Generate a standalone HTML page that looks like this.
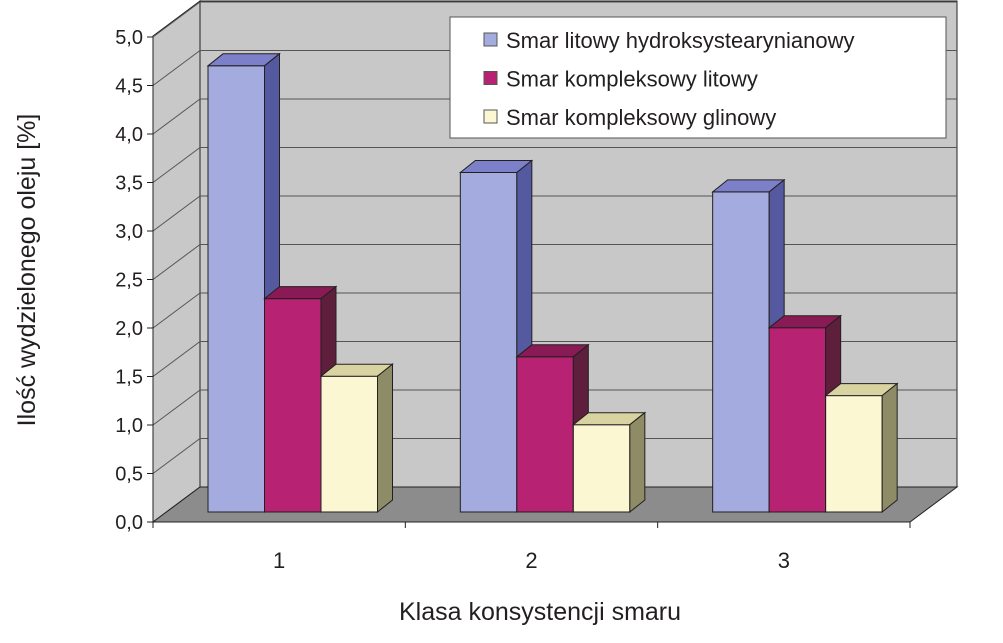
<!DOCTYPE html>
<html><head><meta charset="utf-8"><style>
body{margin:0;background:#fff;}
svg text{font-family:"Liberation Sans",sans-serif;fill:#231f20;}
</style></head><body>
<svg id="chart" width="1003" height="638" xmlns="http://www.w3.org/2000/svg"></svg>
<script>
const categories=["1","2","3"];
const seriesNames=["Smar litowy hydroksystearynianowy","Smar kompleksowy litowy","Smar kompleksowy glinowy"];
const s1=[4.6,3.5,3.3];
const s2=[2.2,1.6,1.9];
const s3=[1.4,0.9,1.2];
const yTicks=[0,0.5,1,1.5,2,2.5,3,3.5,4,4.5,5];
const yTickLabels=["0,0","0,5","1,0","1,5","2,0","2,5","3,0","3,5","4,0","4,5","5,0"];

const NS="http://www.w3.org/2000/svg";
const svg=document.getElementById('chart');
function mk(tag,attrs,parent){const e=document.createElementNS(NS,tag);for(const k in attrs)e.setAttribute(k,attrs[k]);(parent||svg).appendChild(e);return e;}
const X0=153,X1=910,Y0=522,DX=47,DY=35,PX=97;
const y=v=>Y0-v*PX;
const catW=(X1-X0)/categories.length;
// walls
let e;
e=mk('polygon',{points:`${X0},${y(5)-1} ${X0+DX},${y(5)-DY-1} ${X0+DX},${Y0-DY} ${X0},${Y0}`,fill:'#c8c8c8',stroke:'#231f20','stroke-width':1});

e=mk('rect',{x:X0+DX,y:1,width:X1-X0,height:Y0-DY-1,fill:'#c8c8c8',stroke:'#231f20','stroke-width':1});

e=mk('polygon',{points:`${X0},${Y0} ${X0+DX},${Y0-DY} ${X1+DX},${Y0-DY} ${X1},${Y0}`,fill:'#8c8c8c',stroke:'#231f20','stroke-width':1});

// grid + ticks
yTicks.forEach((v,i)=>{
  if(v>0){
    e=mk('line',{x1:X0+DX,y1:y(v)-DY,x2:X1+DX,y2:y(v)-DY,stroke:'#555','stroke-width':1});
    
    e=mk('line',{x1:X0,y1:y(v),x2:X0+DX,y2:y(v)-DY,stroke:'#555','stroke-width':1});
    
  }
  e=mk('line',{x1:X0-6,y1:y(v),x2:X0,y2:y(v),stroke:'#231f20','stroke-width':1});
  
  e=mk('text',{x:X0-10,y:y(v)+7,'text-anchor':'end','font-size':20});
  e.textContent=yTickLabels[i];
  
});
e=mk('line',{x1:X0,y1:y(5),x2:X0,y2:Y0,stroke:'#231f20','stroke-width':1});

e=mk('line',{x1:X0,y1:Y0,x2:X1,y2:Y0,stroke:'#231f20','stroke-width':1});

// bars
const series=[s1,s2,s3];
const cols=[["#a4acdf","#7b80c8","#5559a0"],["#b72273","#8a1a56","#5e1f3c"],["#fbf7d2","#d8d3a0","#8e8c66"]];
const bw=56.5,bdx=15,bdy=12,bBase=512,gOff=55;
categories.forEach((c,ci)=>{
  const gx=X0+ci*catW+gOff;
  series.forEach((s,si)=>{
    const x=gx+si*bw, top=bBase-s[ci]*PX;
    const g=mk('g',{});
    
    mk('rect',{x:x,y:top,width:bw,height:bBase-top,fill:cols[si][0],stroke:'#231f20','stroke-width':1},g);
    mk('polygon',{points:`${x},${top} ${x+bdx},${top-bdy} ${x+bw+bdx},${top-bdy} ${x+bw},${top}`,fill:cols[si][1],stroke:'#231f20','stroke-width':1},g);
    mk('polygon',{points:`${x+bw},${top} ${x+bw+bdx},${top-bdy} ${x+bw+bdx},${bBase-bdy} ${x+bw},${bBase}`,fill:cols[si][2],stroke:'#231f20','stroke-width':1},g);
  });
  e=mk('line',{x1:X0+(ci+1)*catW,y1:Y0,x2:X0+(ci+1)*catW,y2:Y0+6,stroke:'#231f20'});
  
  e=mk('text',{x:X0+(ci+0.5)*catW,y:568,'text-anchor':'middle','font-size':22});
  e.textContent=c;
  
});
e=mk('line',{x1:X0,y1:Y0,x2:X0,y2:Y0+6,stroke:'#231f20'});

// titles
e=mk('text',{x:540,y:620,'text-anchor':'middle','font-size':25});
e.textContent='Klasa konsystencji smaru';

e=mk('text',{x:0,y:0,'text-anchor':'middle','font-size':25,transform:'translate(35,270) rotate(-90)'});
e.textContent='Ilość wydzielonego oleju [%]';

// legend
const lg=mk('g',{});

mk('rect',{x:450,y:17,width:496,height:121,fill:'#fff',stroke:'#555','stroke-width':1},lg);
seriesNames.forEach((n,i)=>{
  const ry=40+i*38.5;
  const it=mk('g',{},lg);
  
  mk('rect',{x:484,y:ry-7,width:13,height:13,fill:cols[i][0],stroke:'#555'},it);
  const t=mk('text',{x:506,y:ry+8,'font-size':22},it);
  t.textContent=n;
});
</script>
</body></html>
